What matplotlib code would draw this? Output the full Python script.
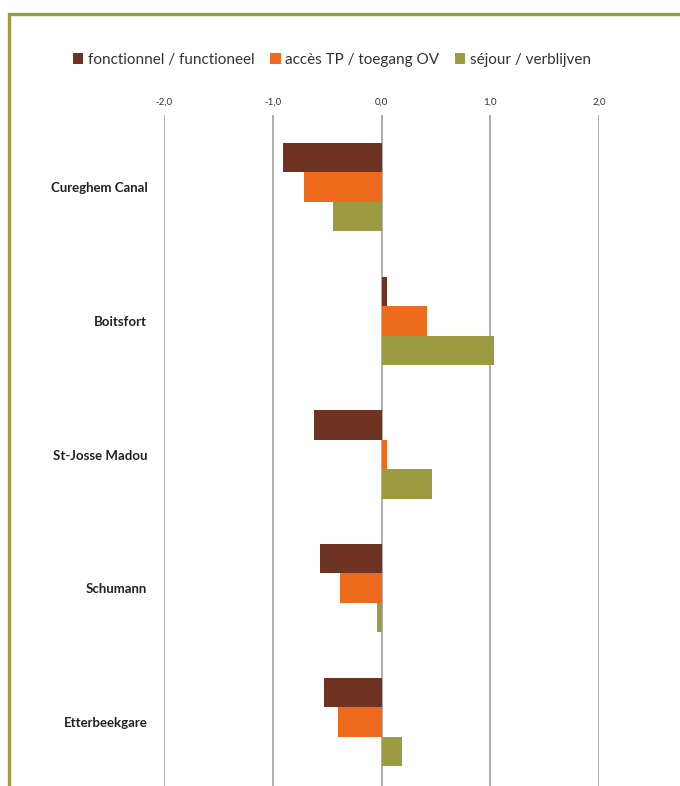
import numpy as np
import matplotlib
matplotlib.use('Agg')
import matplotlib.pyplot as plt
from matplotlib.lines import Line2D
from matplotlib.patches import Patch

# Data
stations = ['Cureghem Canal', 'Boitsfort', 'St-Josse Madou', 'Schumann', 'Etterbeekgare']
series_names = ['fonctionnel / functioneel', 'accès TP / toegang OV', 'séjour / verblijven']
fonctionnel = [-0.91, 0.05, -0.62, -0.57, -0.53]
acces_tp = [-0.71, 0.42, 0.05, -0.38, -0.40]
sejour = [-0.45, 1.03, 0.46, -0.04, 0.19]
x_ticks = [-2.0, -1.0, 0.0, 1.0, 2.0]

colors = ['#6E3323', '#EE6B1E', '#9D9B41']
border_color = '#9E9A40'

plt.rcParams['font.family'] = ['Lato', 'DejaVu Sans']

fig = plt.figure(figsize=(6.8, 7.86), dpi=100)
ax = fig.add_axes([164 / 680, 0.0, 435 / 680, 1 - 115 / 786])

y = np.arange(len(stations))
h = 0.22
for k, vals in enumerate([fonctionnel, acces_tp, sejour]):
    ax.barh(y + (k - 1) * h, vals, height=h, color=colors[k], zorder=3)

ax.set_xlim(-2.0, 2.0)
ax.set_ylim(4.48, -0.54)
ax.set_xticks(x_ticks)
ax.set_xticklabels([f'{v:.1f}'.replace('.', ',') for v in x_ticks],
                   fontsize=7, color='#333333')
ax.xaxis.tick_top()
ax.tick_params(axis='x', length=0, pad=6)
ax.set_yticks(y)
ax.set_yticklabels(stations, fontsize=9.5, fontweight='bold', color='#222222')
ax.tick_params(axis='y', length=0, pad=12)
ax.grid(axis='x', color='#A8A8A8', linewidth=1.3, zorder=0)
for s in ax.spines.values():
    s.set_visible(False)

handles = [Patch(facecolor=c) for c in colors]
fig.legend(handles, series_names, loc='center', bbox_to_anchor=(0.488, 1 - 60 / 786),
           ncol=3, frameon=False, fontsize=11, handlelength=0.7, handleheight=0.7,
           handletextpad=0.3, columnspacing=1.0, labelcolor='#333333')

# olive frame (top and left edges)
fig.add_artist(Line2D([9 / 680, 9 / 680, 1.0], [0.0, 1 - 14 / 786, 1 - 14 / 786],
                      transform=fig.transFigure, color=border_color, linewidth=2.4,
                      solid_joinstyle='miter'))

fig.savefig('out.png', dpi=100)
